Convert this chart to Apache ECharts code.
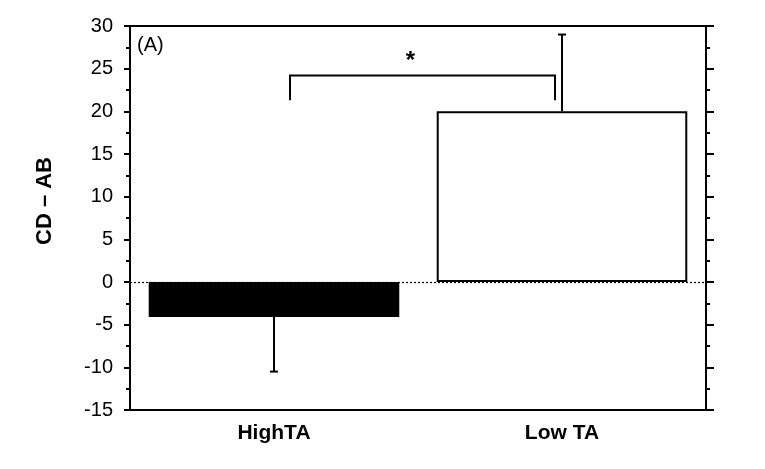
<!DOCTYPE html>
<html>
<head>
<meta charset="utf-8">
<script src="https://cdn.jsdelivr.net/npm/echarts@6/dist/echarts.min.js"></script>
<style>html,body{margin:0;padding:0;background:#fff;}#c{width:765px;height:469px;}</style>
</head>
<body>
<div id="c"></div>
<script>
var categories = ['HighTA', 'Low TA'];
var means = [-4.1, 20.0];
var errors = [6.4, 9.0];
var yTicks = {min: -15, max: 30, interval: 5};
var bracketTop = 24.2;
var bracketBottom = 21.3;
var panelLabel = '(A)';
var yName = 'CD \u2013 AB';

var chart = echarts.init(document.getElementById('c'), null, {renderer: 'canvas'});
var font = 'Liberation Sans, Arial, sans-serif';

var barData = means.map(function (v, i) {
  return {
    value: v,
    itemStyle: i === 0
      ? {color: '#000', borderColor: '#000', borderWidth: 1.5}
      : {color: '#fff', borderColor: '#000', borderWidth: 2}
  };
});
var errData = means.map(function (v, i) {
  return [i, v, v >= 0 ? v + errors[i] : v - errors[i]];
});

chart.setOption({
  animation: false,
  backgroundColor: '#fff',
  grid: {left: 130, right: 59, top: 26, bottom: 59},
  xAxis: [{
    type: 'category', data: categories, position: 'bottom',
    axisLine: {onZero: false, lineStyle: {color: '#000', width: 2}},
    axisTick: {alignWithLabel: true, length: 6, lineStyle: {color: '#000', width: 2}},
    axisLabel: {color: '#000', fontSize: 21, fontWeight: 'bold', fontFamily: font, margin: 13}
  }, {
    type: 'category', data: categories, position: 'top',
    axisLine: {onZero: false, lineStyle: {color: '#000', width: 2}},
    axisTick: {alignWithLabel: true, length: 4, lineStyle: {color: '#000', width: 2}},
    axisLabel: {show: false}
  }],
  yAxis: [{
    type: 'value', min: yTicks.min, max: yTicks.max, interval: yTicks.interval,
    position: 'left',
    axisLine: {show: true, lineStyle: {color: '#000', width: 2}},
    axisTick: {show: true, length: 6, lineStyle: {color: '#000', width: 2}},
    minorTick: {show: true, splitNumber: 2, length: 4, lineStyle: {color: '#000', width: 2}},
    splitLine: {show: false},
    axisLabel: {color: '#000', fontSize: 20, fontFamily: font, margin: 17}
  }, {
    type: 'value', min: yTicks.min, max: yTicks.max, interval: yTicks.interval,
    position: 'right',
    axisLine: {show: true, lineStyle: {color: '#000', width: 2}},
    axisTick: {show: true, length: 8, lineStyle: {color: '#000', width: 2}},
    minorTick: {show: true, splitNumber: 2, length: 4, lineStyle: {color: '#000', width: 2}},
    splitLine: {show: false},
    axisLabel: {show: false}
  }],
  graphic: [{
    type: 'text', left: 137, top: 35,
    style: {text: panelLabel, fontSize: 20, fontFamily: font, fill: '#000'}
  }, {
    type: 'text', x: 45, y: 201, rotation: Math.PI / 2,
    style: {text: yName, fontSize: 22, fontWeight: 'bold', fontFamily: font, fill: '#000',
      align: 'center', verticalAlign: 'middle'}
  }],
  series: [{
    type: 'bar', data: barData, barWidth: '87%', z: 3,
    markLine: {
      silent: true, symbol: 'none', z: 1,
      label: {show: false},
      lineStyle: {color: '#000', type: [2, 2], width: 1.2},
      data: [{yAxis: 0}]
    }
  }, {
    type: 'custom', z: 2,
    data: errData,
    renderItem: function (params, api) {
      var x = api.value(0);
      var p0 = api.coord([x, api.value(1)]);
      var p1 = api.coord([x, api.value(2)]);
      var cw = 4;
      return {
        type: 'group', children: [
          {type: 'line', shape: {x1: p0[0], y1: p0[1], x2: p1[0], y2: p1[1]}, style: {stroke: '#000', lineWidth: 2}},
          {type: 'line', shape: {x1: p1[0] - cw, y1: p1[1], x2: p1[0] + cw, y2: p1[1]}, style: {stroke: '#000', lineWidth: 2}}
        ]
      };
    }
  }, {
    type: 'custom', z: 4,
    data: [[0, 1, bracketTop, bracketBottom]],
    renderItem: function (params, api) {
      var a = api.coord([api.value(0), api.value(2)]);
      var b = api.coord([api.value(1), api.value(2)]);
      var yb = api.coord([api.value(0), api.value(3)])[1];
      var xl = a[0] + 16, xr = b[0] - 7;
      return {
        type: 'group', children: [
          {type: 'polyline', shape: {points: [[xl, yb], [xl, a[1]], [xr, a[1]], [xr, yb]]},
            style: {stroke: '#000', lineWidth: 2, fill: null}},
          {type: 'text', x: (xl + xr) / 2 - 12, y: a[1] - 14,
            style: {text: '*', fontSize: 24, fontWeight: 'bold', fontFamily: font, fill: '#000',
              align: 'center', verticalAlign: 'middle'}}
        ]
      };
    }
  }]
});
</script>
</body>
</html>
